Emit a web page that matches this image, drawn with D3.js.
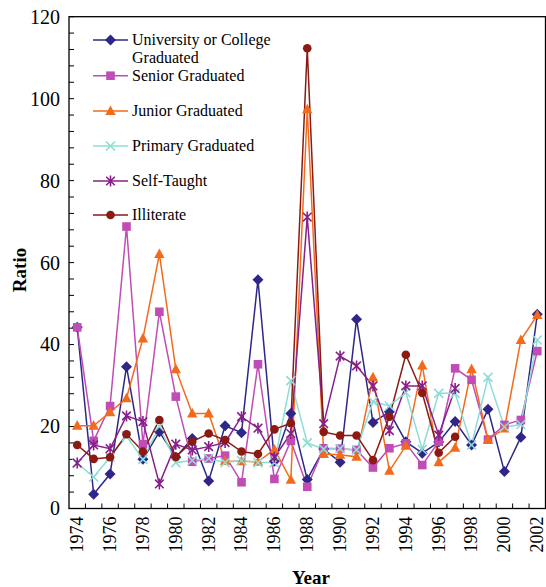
<!DOCTYPE html>
<html><head><meta charset="utf-8">
<script src="https://cdn.jsdelivr.net/npm/d3@7"></script>
<style>body{margin:0;background:#fff}svg{display:block}</style>
</head><body>
<svg id="c" width="546" height="587"></svg>
<script>
const years = d3.range(1974, 2003);
const yTicks = [0, 20, 40, 60, 80, 100, 120];
const xTickLabels = [1974,1976,1978,1980,1982,1984,1986,1988,1990,1992,1994,1996,1998,2000,2002];
const seriesNames = ["University or College Graduated","Senior Graduated","Junior Graduated","Primary Graduated","Self-Taught","Illiterate"];
const university = [44.2,3.5,8.4,34.6,12.0,18.7,12.5,17.1,6.7,20.2,18.5,55.8,11.5,23.2,7.1,14.5,11.3,46.2,21.0,23.6,16.3,13.5,16.2,21.2,15.5,24.2,9.0,17.4,47.4];
const senior = [44.2,16.5,25.0,68.8,15.7,48.0,27.3,11.4,12.2,12.9,6.4,35.2,7.2,16.5,5.3,14.7,14.6,14.3,10.0,14.7,15.9,10.6,16.3,34.2,31.4,16.8,20.4,21.6,38.4];
const junior = [20.2,20.2,23.5,26.9,41.5,62.1,34.0,23.2,23.2,11.6,11.5,11.4,14.4,7.0,97.4,13.3,13.1,12.6,32.0,9.2,15.3,34.9,11.3,14.8,34.0,16.8,19.5,41.1,47.2];
const primary = [11.0,7.7,12.5,17.6,12.0,20.0,11.2,11.7,12.2,11.2,11.7,11.2,11.2,31.2,16.0,14.5,14.6,14.3,26.1,25.0,28.3,14.4,28.1,28.1,15.5,32.0,19.9,20.5,41.1];
const selfTaught = [11.1,15.5,14.6,22.6,21.2,6.0,15.7,14.3,15.1,16.1,22.4,19.6,12.5,18.3,71.1,20.7,37.2,34.8,29.9,19.0,29.9,29.9,17.9,29.3];
const illiterate = [15.5,12.1,12.5,18.1,13.9,21.6,12.6,16.3,18.3,16.7,13.9,13.3,19.3,20.8,112.3,18.7,17.8,17.8,11.8,22.4,37.5,28.2,13.6,17.5];

const colors = ["#2f2787","#c04cb6","#f26b1d","#8fdcd6","#87208a","#8a1a12"];
const markers = ["diamond","square","triangle","x","star","circle"];
const seriesValues = [university, senior, junior, primary, selfTaught, illiterate];

const svg = d3.select("#c");
const L = 69, R = 545.5, T = 16.7, B = 508.5;
const x = d3.scaleBand().domain(years).range([L, R]).padding(0);
const xc = d => x(d) + x.bandwidth() / 2;
const y = d3.scaleLinear().domain([0, 120]).range([B, T]);
const font = "'Liberation Serif','Times New Roman',serif";

function markerPath(type) {
  switch (type) {
    case "diamond": return "M0,-5.5L5.5,0L0,5.5L-5.5,0Z";
    case "square": return "M-4.3,-4.3H4.3V4.3H-4.3Z";
    case "triangle": return "M0,-5.6L5.2,4L-5.2,4Z";
    case "x": return "M-4.5,-4.5L4.5,4.5M-4.5,4.5L4.5,-4.5";
    case "star": return "M-4.3,-4.3L4.3,4.3M-4.3,4.3L4.3,-4.3M0,-5.5V5.5";
    case "circle": return null;
  }
}
function drawMarker(g, type, color) {
  if (type === "circle") {
    g.append("circle").attr("r", 4.3).attr("fill", color);
  } else if (type === "x" || type === "star") {
    g.append("path").attr("d", markerPath(type)).attr("stroke", color).attr("stroke-width", 1.6).attr("fill", "none");
  } else {
    g.append("path").attr("d", markerPath(type)).attr("fill", color);
  }
}

// frame
svg.append("rect").attr("x", L).attr("y", T).attr("width", R - L).attr("height", B - T)
  .attr("fill", "none").attr("stroke", "#000").attr("stroke-width", 1.3);

// y ticks (inward) minor every 4
const yMinor = d3.range(0, 121, 4);
svg.append("g").selectAll("line").data(yMinor).join("line")
  .attr("x1", L).attr("x2", L + 5).attr("y1", d => y(d)).attr("y2", d => y(d))
  .attr("stroke", "#000").attr("stroke-width", 1);
const yAxis = d3.axisLeft(y).tickValues(yTicks).tickSize(0).tickPadding(9);
const gy = svg.append("g").attr("transform", `translate(${L},0)`).call(yAxis);
gy.select(".domain").remove();
gy.selectAll("text").attr("font-family", font).attr("font-size", 20).attr("fill", "#000");

// x ticks at category boundaries (inward)
const bounds = years.slice(1).map(d => x(d));
svg.append("g").selectAll("line").data(bounds).join("line")
  .attr("x1", d => d).attr("x2", d => d).attr("y1", B).attr("y2", B - 5)
  .attr("stroke", "#000").attr("stroke-width", 1);
const xAxis = d3.axisBottom(d3.scalePoint().domain(years).range([xc(1974), xc(2002)]))
  .tickValues(xTickLabels).tickSize(0);
const gx = svg.append("g").attr("transform", `translate(0,${B})`).call(xAxis);
gx.select(".domain").remove();
gx.selectAll("text").attr("font-family", font).attr("font-size", 18).attr("fill", "#000")
  .attr("transform", "rotate(-90)").attr("text-anchor", "end")
  .attr("x", -8).attr("y", 0).attr("dy", "0.3em");

// axis titles
svg.append("text").attr("x", 311).attr("y", 584).attr("text-anchor", "middle")
  .attr("font-family", font).attr("font-weight", "bold").attr("font-size", 19).text("Year");
svg.append("text").attr("transform", "translate(26,270) rotate(-90)").attr("text-anchor", "middle")
  .attr("font-family", font).attr("font-weight", "bold").attr("font-size", 19).text("Ratio");

// series
seriesValues.forEach((vals, i) => {
  const pts = vals.map((v, j) => [xc(years[j]), y(v)]);
  svg.append("path").attr("d", d3.line()(pts)).attr("fill", "none")
    .attr("stroke", colors[i]).attr("stroke-width", 1.5);
});
seriesValues.forEach((vals, i) => {
  vals.forEach((v, j) => {
    const g = svg.append("g").attr("transform", `translate(${xc(years[j])},${y(v)})`);
    drawMarker(g, markers[i], colors[i]);
  });
});

// legend
const legY = [40, 75.7, 111, 146, 181, 215];
seriesNames.forEach((name, i) => {
  const g = svg.append("g").attr("transform", `translate(0,${legY[i]})`);
  g.append("line").attr("x1", 93).attr("x2", 128).attr("stroke", colors[i]).attr("stroke-width", 1.5);
  const m = g.append("g").attr("transform", "translate(110.5,0)");
  drawMarker(m, markers[i], colors[i]);
  const t = g.append("text").attr("x", 132).attr("y", 0).attr("dy", "0.33em")
    .attr("font-family", font).attr("font-size", 16).attr("fill", "#000");
  if (i === 0) {
    t.append("tspan").attr("x", 132).text("University or College");
    t.append("tspan").attr("x", 132).attr("dy", "1.1em").text("Graduated");
  } else {
    t.text(name);
  }
});
</script>
</body></html>
